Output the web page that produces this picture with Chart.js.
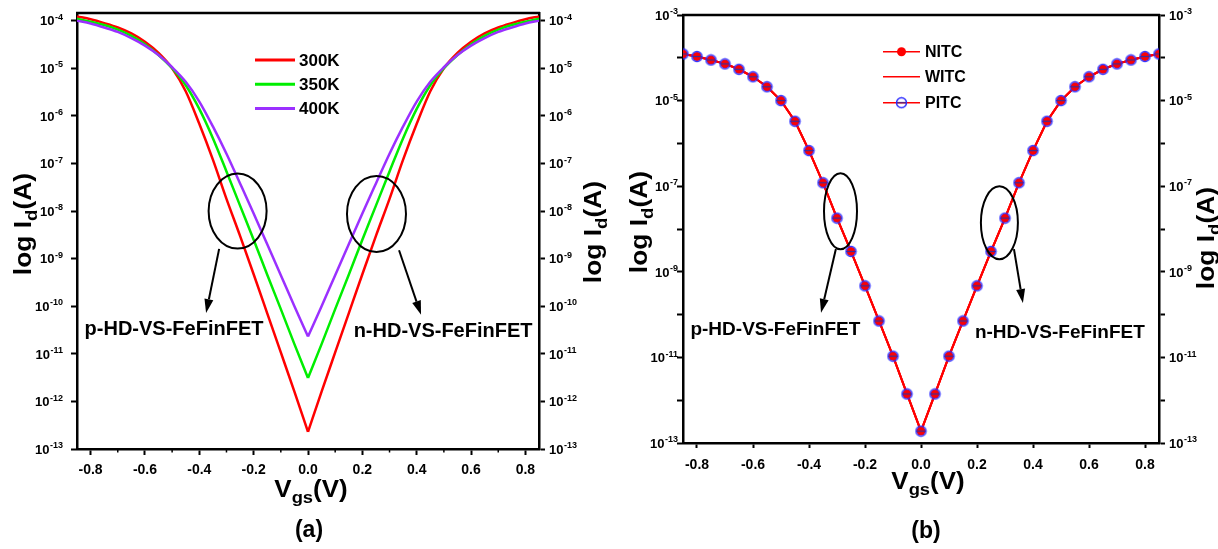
<!DOCTYPE html>
<html><head><meta charset="utf-8">
<script src="https://cdn.jsdelivr.net/npm/chart.js@4.4.1/dist/chart.umd.min.js"></script>
<style>
html,body{margin:0;padding:0;background:#fff;width:1218px;height:549px;overflow:hidden}
#wa{position:absolute;left:0;top:0;width:612px;height:549px}
#wb{position:absolute;left:612px;top:0;width:606px;height:549px}
.cap{position:absolute;font:bold 23px "Liberation Sans",Arial,sans-serif;color:#000;transform:translate(-50%,-50%);white-space:nowrap}
</style></head><body>
<div id="wa"><canvas id="ca" width="612" height="549"></canvas></div>
<div id="wb"><canvas id="cb" width="606" height="549"></canvas></div>
<div class="cap" style="left:309px;top:529px">(a)</div>
<div class="cap" style="left:926px;top:530px">(b)</div>
<script>
// ---------------- DATA ----------------
const vgs = [-0.85,-0.80,-0.75,-0.70,-0.65,-0.60,-0.55,-0.50,-0.45,-0.40,-0.35,-0.30,-0.25,-0.20,-0.15,-0.10,-0.05,0.00,
             0.05,0.10,0.15,0.20,0.25,0.30,0.35,0.40,0.45,0.50,0.55,0.60,0.65,0.70,0.75,0.80,0.85];

// Panel (a): drain current (A) at three temperatures
const id300K = [1.23e-4,1.07e-4,8.9e-5,7.2e-5,5.4e-5,3.6e-5,2.1e-5,1.0e-5,3.3e-6,6.8e-7,1.2e-7,1.8e-8,3.0e-9,4.7e-10,7.1e-11,1.07e-11,1.6e-12,2.3e-13,
                1.6e-12,1.07e-11,7.1e-11,4.7e-10,3.0e-9,1.8e-8,1.2e-7,6.8e-7,3.3e-6,1.0e-5,2.1e-5,3.6e-5,5.4e-5,7.2e-5,8.9e-5,1.07e-4,1.23e-4];
const id350K = [1.10e-4,9.5e-5,8.1e-5,6.5e-5,4.8e-5,3.2e-5,1.9e-5,1.0e-5,4.4e-6,1.4e-6,3.4e-7,6.8e-8,1.3e-8,2.5e-9,4.6e-10,8.7e-11,1.6e-11,3.1e-12,
                1.6e-11,8.7e-11,4.6e-10,2.5e-9,1.3e-8,6.8e-8,3.4e-7,1.4e-6,4.4e-6,1.0e-5,1.9e-5,3.2e-5,4.8e-5,6.5e-5,8.1e-5,9.5e-5,1.10e-4];
const id400K = [1.0e-4,8.7e-5,7.2e-5,5.8e-5,4.3e-5,3.0e-5,1.9e-5,1.05e-5,5.2e-6,2.0e-6,6.0e-7,1.6e-7,3.8e-8,8.9e-9,2.0e-9,4.5e-10,1.0e-10,2.3e-11,
                1.0e-10,4.5e-10,2.0e-9,8.9e-9,3.8e-8,1.6e-7,6.0e-7,2.0e-6,5.2e-6,1.05e-5,1.9e-5,3.0e-5,4.3e-5,5.8e-5,7.2e-5,8.7e-5,1.0e-4];

// Panel (b): drain current (A) for the three corners
const idNITC = [1.23e-4,1.07e-4,8.9e-5,7.2e-5,5.4e-5,3.6e-5,2.1e-5,1.0e-5,3.3e-6,6.8e-7,1.2e-7,1.8e-8,3.0e-9,4.7e-10,7.1e-11,1.07e-11,1.4e-12,1.9e-13,
                1.4e-12,1.07e-11,7.1e-11,4.7e-10,3.0e-9,1.8e-8,1.2e-7,6.8e-7,3.3e-6,1.0e-5,2.1e-5,3.6e-5,5.4e-5,7.2e-5,8.9e-5,1.07e-4,1.23e-4];
const idWITC = [1.23e-4,1.07e-4,8.9e-5,7.2e-5,5.4e-5,3.6e-5,2.1e-5,1.0e-5,3.3e-6,6.8e-7,1.2e-7,1.8e-8,3.0e-9,4.7e-10,7.1e-11,1.07e-11,1.4e-12,1.9e-13,
                1.4e-12,1.07e-11,7.1e-11,4.7e-10,3.0e-9,1.8e-8,1.2e-7,6.8e-7,3.3e-6,1.0e-5,2.1e-5,3.6e-5,5.4e-5,7.2e-5,8.9e-5,1.07e-4,1.23e-4];
const idPITC = [1.23e-4,1.07e-4,8.9e-5,7.2e-5,5.4e-5,3.6e-5,2.1e-5,1.0e-5,3.3e-6,6.8e-7,1.2e-7,1.8e-8,3.0e-9,4.7e-10,7.1e-11,1.07e-11,1.4e-12,1.9e-13,
                1.4e-12,1.07e-11,7.1e-11,4.7e-10,3.0e-9,1.8e-8,1.2e-7,6.8e-7,3.3e-6,1.0e-5,2.1e-5,3.6e-5,5.4e-5,7.2e-5,8.9e-5,1.07e-4,1.23e-4];

const seriesA = ['300K','350K','400K'];
const seriesB = ['NITC','WITC','PITC'];

// Tick values / labels
const xTickValues = [-0.8,-0.6,-0.4,-0.2,0.0,0.2,0.4,0.6,0.8];
const xTickLabels = ['-0.8','-0.6','-0.4','-0.2','0.0','0.2','0.4','0.6','0.8'];
const xMinorTicksA = [-0.7,-0.5,-0.3,-0.1,0.1,0.3,0.5,0.7];
const yTickExpsA = [-4,-5,-6,-7,-8,-9,-10,-11,-12,-13];
const yTickExpsB = [-3,-4,-5,-6,-7,-8,-9,-10,-11,-12,-13];
const yLabelExpsB = [-3,-5,-7,-9,-11,-13];

const annotTextA = ['p-HD-VS-FeFinFET','n-HD-VS-FeFinFET'];
const annotTextB = ['p-HD-VS-FeFinFET','n-HD-VS-FeFinFET'];

// ---------------- HELPERS ----------------
const FONT = '"Liberation Sans", Arial, Helvetica, sans-serif';
function expOf(v){ return Math.round(Math.log10(v)); }
function pts(ys){ return vgs.map((v,i) => ({x:v, y:ys[i]})); }
const TIP = vgs.indexOf(0);
function leftBranch(ys){ return pts(ys).slice(0, TIP + 1); }
function rightBranch(ys){ return pts(ys).slice(TIP); }

function drawRich(ctx, parts, cx, cy, rot, stretch){
  ctx.save();
  ctx.translate(cx, cy);
  ctx.rotate(rot);
  ctx.scale(stretch, 1);
  let total = 0;
  parts.forEach(p => { ctx.font = `bold ${p.size}px ${FONT}`; p.w = ctx.measureText(p.t).width; total += p.w; });
  let x = -total/2;
  ctx.fillStyle = '#000'; ctx.textAlign = 'left'; ctx.textBaseline = 'alphabetic';
  const base = parts[0].size * 0.36;
  parts.forEach(p => { ctx.font = `bold ${p.size}px ${FONT}`; ctx.fillText(p.t, x, base + (p.dy||0)); x += p.w; });
  ctx.restore();
}

function drawPowLabels(ctx, scale, labelExps, side, gap){
  const ca = scale.chart.chartArea;
  ctx.fillStyle = '#000'; ctx.textAlign = 'left'; ctx.textBaseline = 'alphabetic';
  scale.ticks.forEach(t => {
    const e = expOf(t.value);
    if (labelExps && !labelExps.includes(e)) return;
    const y = scale.getPixelForValue(t.value);
    ctx.font = `bold 13px ${FONT}`; const w1 = ctx.measureText('10').width;
    ctx.font = `bold 9px ${FONT}`; const w2 = ctx.measureText(String(e)).width;
    const x0 = side === 'left' ? ca.left - gap - w1 - w2 - 0.5 : ca.right + gap;
    ctx.font = `bold 13px ${FONT}`; ctx.fillText('10', x0, y + 4.8);
    ctx.font = `bold 9px ${FONT}`; ctx.fillText(String(e), x0 + w1 + 0.5, y - 0.8);
  });
}

function arrow(ctx, x1, y1, x2, y2){
  const a = Math.atan2(y2-y1, x2-x1), L = 14, W = 4.5;
  const bx = x2 - L*Math.cos(a), by = y2 - L*Math.sin(a);
  ctx.beginPath(); ctx.moveTo(x1,y1); ctx.lineTo(bx,by); ctx.stroke();
  ctx.beginPath(); ctx.moveTo(x2,y2);
  ctx.lineTo(bx + W*Math.sin(a), by - W*Math.cos(a));
  ctx.lineTo(bx - W*Math.sin(a), by + W*Math.cos(a));
  ctx.closePath(); ctx.fill();
}

function makeThetaMarker(){
  const c = document.createElement('canvas'); c.width = 13; c.height = 13;
  const g = c.getContext('2d');
  g.strokeStyle = '#2b2bff'; g.lineWidth = 1.4;
  g.beginPath(); g.arc(6.5,6.5,5,0,2*Math.PI); g.stroke();
  g.strokeStyle = '#3a2a9a'; g.lineWidth = 1.3;
  g.beginPath(); g.moveTo(2,6.5); g.lineTo(11,6.5); g.stroke();
  return c;
}

function xScale(opts){
  return {
    type:'linear', position:'bottom', min:-0.85, max:0.85,
    afterBuildTicks: s => { s.ticks = xTickValues.map(v => ({value:v})); },
    afterFit: s => { s.height = opts.h; },
    ticks:{autoSkip:false, maxRotation:0, padding:opts.pad, color:'#000',
           font:{family:FONT, size:14, weight:'bold'}, callback:(v,i) => xTickLabels[i]},
    grid:{drawOnChartArea:false, drawTicks:true, tickLength:opts.tl, tickWidth:2, tickColor:'#000'},
    border:{display:true, color:'#000', width:2.5}
  };
}
function yScale(opts){
  return {
    type:'logarithmic', position:opts.pos, min:opts.min, max:opts.max,
    afterBuildTicks: s => { s.ticks = opts.exps.map(e => ({value:Number('1e'+e)})); },
    afterFit: s => { s.width = opts.w; },
    ticks:{display:false, autoSkip:false},
    grid:{drawOnChartArea:false, drawTicks:true, tickLength:6, tickWidth:2, tickColor:'#000'},
    border:{display:true, color:'#000', width:2.5}
  };
}

function decorPlugin(cfg){
  return {
    id:'decor_'+cfg.name,
    afterDraw(chart){
      const ctx = chart.ctx, xs = chart.scales.x, ys = chart.scales.y, ca = chart.chartArea;
      ctx.save();
      // top frame
      ctx.strokeStyle = '#000'; ctx.lineWidth = 2.5;
      ctx.beginPath(); ctx.moveTo(ca.left-1, ca.top); ctx.lineTo(ca.right+1, ca.top); ctx.stroke();
      // minor ticks
      if (cfg.minorX){
        ctx.lineWidth = 1.5;
        cfg.minorX.forEach(v => { const px = xs.getPixelForValue(v); ctx.beginPath(); ctx.moveTo(px, ca.bottom); ctx.lineTo(px, ca.bottom+3.5); ctx.stroke(); });
      }
      // y tick labels (10^n)
      drawPowLabels(ctx, chart.scales.y, cfg.labelExps, 'left', cfg.gapL);
      drawPowLabels(ctx, chart.scales.y2, cfg.labelExps, 'right', cfg.gapR);
      // ellipses
      ctx.strokeStyle = '#000'; ctx.lineWidth = 2;
      cfg.ellipses.forEach(e => {
        ctx.beginPath(); ctx.ellipse(xs.getPixelForValue(e.x), ys.getPixelForValue(e.y), e.rx, e.ry, 0, 0, 2*Math.PI); ctx.stroke();
      });
      // arrows
      ctx.fillStyle = '#000'; ctx.lineWidth = 2;
      cfg.arrows.forEach(a => arrow(ctx, xs.getPixelForValue(a.x1), ys.getPixelForValue(a.y1), xs.getPixelForValue(a.x2), ys.getPixelForValue(a.y2)));
      // annotation labels
      ctx.font = `bold ${cfg.labelSize}px ${FONT}`; ctx.textAlign = 'center'; ctx.textBaseline = 'middle'; ctx.fillStyle = '#000';
      cfg.labels.forEach(l => ctx.fillText(l.t, xs.getPixelForValue(l.x), ys.getPixelForValue(l.y)));
      // legend
      const lg = cfg.legend;
      chart.data.datasets.filter(d => !d.legendSkip).forEach((d, i) => {
        const y = lg.rows[i];
        ctx.strokeStyle = d.borderColor; ctx.lineWidth = lg.lw;
        ctx.beginPath(); ctx.moveTo(lg.x0, y); ctx.lineTo(lg.x1, y); ctx.stroke();
        if (d.pointRadius > 0){
          if (d.pointStyle instanceof HTMLCanvasElement){
            ctx.drawImage(d.pointStyle, lg.xm - d.pointStyle.width/2, y - d.pointStyle.height/2);
          } else {
            ctx.fillStyle = d.pointBackgroundColor; ctx.beginPath(); ctx.arc(lg.xm, y, d.pointRadius, 0, 2*Math.PI); ctx.fill();
          }
        }
        ctx.fillStyle = '#000'; ctx.font = `bold ${lg.size}px ${FONT}`; ctx.textAlign = 'left'; ctx.textBaseline = 'middle';
        ctx.fillText(d.label, lg.xt, y + 1);
      });
      // axis titles
      const yt = () => [{t:'log I', size:24}, {t:'d', size:17, dy:6}, {t:'(A)', size:24}];
      drawRich(ctx, yt(), cfg.yTitleL[0], cfg.yTitleL[1], -Math.PI/2, 1.1);
      drawRich(ctx, yt(), cfg.yTitleR[0], cfg.yTitleR[1], -Math.PI/2, 1.1);
      drawRich(ctx, [{t:'V', size:24}, {t:'gs', size:17, dy:6}, {t:'(V)', size:24}], cfg.xTitle[0], cfg.xTitle[1], 0, 1.08);
      ctx.restore();
    }
  };
}

// ---------------- CHART (a) ----------------
const colorsA = ['#ff0000','#00ee00','#9b30ff'];
const valuesA = [id300K, id350K, id400K];
const dsA = [];
valuesA.forEach((vals, k) => {
  const common = {label:seriesA[k], borderColor:colorsA[k], borderWidth:2.5, pointRadius:0, cubicInterpolationMode:'monotone', order:3-k};
  dsA.push({...common, data:leftBranch(vals)});
  dsA.push({...common, data:rightBranch(vals), legendSkip:true});
});
new Chart(document.getElementById('ca'), {
  type:'line',
  data:{datasets:dsA},
  options:{
    responsive:false, animation:false, devicePixelRatio:1,
    layout:{padding:{top:13, left:0, right:0, bottom:0}},
    plugins:{legend:{display:false}, tooltip:{enabled:false}},
    scales:{
      x: xScale({h:100, pad:7, tl:6}),
      y: yScale({pos:'left', min:1e-13, max:1.45e-4, exps:yTickExpsA, w:77}),
      y2: yScale({pos:'right', min:1e-13, max:1.45e-4, exps:yTickExpsA, w:73})
    }
  },
  plugins:[decorPlugin({
    name:'a', minorX:xMinorTicksA, labelSize:20, labelExps:null, gapL:14, gapR:10,
    ellipses:[{x:-0.259, y:1.0e-8, rx:29, ry:37.5},{x:0.252, y:8.7e-9, rx:29.5, ry:38}],
    arrows:[{x1:-0.327, y1:1.6e-9, x2:-0.375, y2:7.2e-11},{x1:0.335, y1:1.5e-9, x2:0.416, y2:6.6e-11}],
    labels:[{t:annotTextA[0], x:-0.493, y:3.2e-11},{t:annotTextA[1], x:0.497, y:2.9e-11}],
    legend:{x0:255, x1:295, xm:275, xt:299, rows:[60,84.3,108.6], lw:3, size:17},
    yTitleL:[22,224], yTitleR:[592,232], xTitle:[311,488]
  })]
});

// ---------------- CHART (b) ----------------
const theta = makeThetaMarker();
new Chart(document.getElementById('cb'), {
  type:'line',
  data:{datasets:[
    {label:seriesB[0], data:pts(idNITC), borderColor:'#ff0000', borderWidth:2, pointRadius:4.5, pointStyle:'circle',
     pointBackgroundColor:'#ff0000', pointBorderColor:'#ff0000', pointBorderWidth:0, tension:0, order:2},
    {label:seriesB[1], data:pts(idWITC), borderColor:'#ff0000', borderWidth:2, pointRadius:0, tension:0, order:3},
    {label:seriesB[2], data:pts(idPITC), borderColor:'#ff0000', borderWidth:2, pointRadius:5, pointStyle:theta, tension:0, order:1}
  ]},
  options:{
    responsive:false, animation:false, devicePixelRatio:1,
    layout:{padding:{top:15, left:0, right:0, bottom:0}},
    plugins:{legend:{display:false}, tooltip:{enabled:false}},
    scales:{
      x: xScale({h:106, pad:9, tl:5}),
      y: yScale({pos:'left', min:1e-13, max:1e-3, exps:yTickExpsB, w:71}),
      y2: yScale({pos:'right', min:1e-13, max:1e-3, exps:yTickExpsB, w:59})
    }
  },
  plugins:[decorPlugin({
    name:'b', labelSize:19, labelExps:yLabelExpsB, gapL:5, gapR:10,
    ellipses:[{x:-0.2875, y:2.6e-8, rx:16.5, ry:38},{x:0.280, y:1.4e-8, rx:18.5, ry:36.5}],
    arrows:[{x1:-0.304, y1:3.4e-9, x2:-0.357, y2:1.1e-10},{x1:0.332, y1:3.4e-9, x2:0.364, y2:1.86e-10}],
    labels:[{t:annotTextB[0], x:-0.520, y:4.4e-11},{t:annotTextB[1], x:0.496, y:3.7e-11}],
    legend:{x0:271, x1:308, xm:289.5, xt:313, rows:[51.7,76.7,102.7], lw:1.5, size:16},
    yTitleL:[26,222], yTitleR:[593,238], xTitle:[316,480]
  })]
});
</script>
</body></html>
